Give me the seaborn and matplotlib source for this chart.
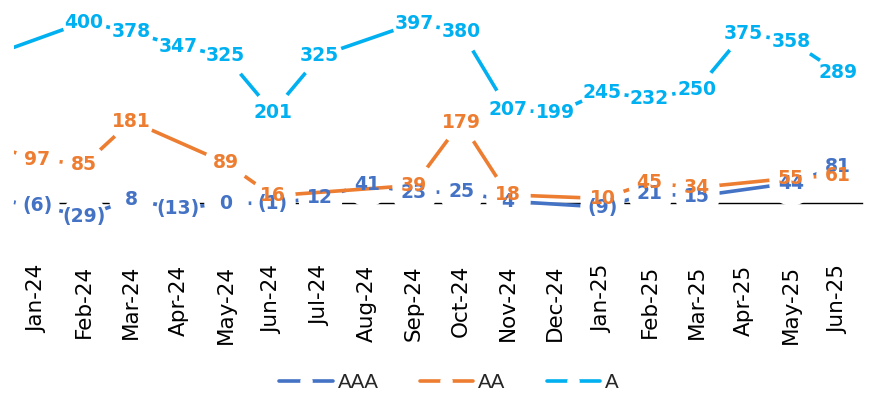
import numpy as np
import pandas as pd
import matplotlib
matplotlib.use("Agg")
import matplotlib.pyplot as plt
from matplotlib.lines import Line2D
import seaborn as sns

# Monthly values per rating bucket; None = no reading that month (line bridges the gap)
months = ["Dec-23", "Jan-24", "Feb-24", "Mar-24", "Apr-24", "May-24", "Jun-24",
          "Jul-24", "Aug-24", "Sep-24", "Oct-24", "Nov-24", "Dec-24", "Jan-25",
          "Feb-25", "Mar-25", "Apr-25", "May-25", "Jun-25"]
aaa = [10, -6, -29, 8, -13, 0, -1, 12, 41, 23, 25, 4, None, -9, 21, 15, None, 44, 81]
aa = [128, 97, 85, 181, None, 89, 16, None, None, 39, 179, 18, None, 10, 45, 34, None, 55, 61]
a = [325, None, 400, 378, 347, 325, 201, 325, None, 397, 380, 207, 199, 245, 232, 250, 375, 358, 289]

series_names = ["AAA", "AA", "A"]
colors = {"AAA": "#4472C4", "AA": "#ED7D31", "A": "#00B0F0"}

sns.set_style("white")
plt.rcParams["font.family"] = ["DejaVu Sans"]

df = pd.DataFrame({"month_idx": range(len(months)), "AAA": aaa, "AA": aa, "A": a})
long = df.melt(id_vars="month_idx", var_name="series", value_name="value").dropna()

fig = plt.figure(figsize=(8.75, 3.94), dpi=100)
W, H = 875, 394
ax = fig.add_axes([13.5 / W, 1 - 248.25 / H, 848 / W, 248.85 / H])
ax.set_axisbelow(True)

# The axis window starts at Jan-24; the Dec-23 reading only feeds the opening segment
x_lo, x_hi = 0.5, len(months) - 0.5

sns.lineplot(data=long, x="month_idx", y="value", hue="series",
             hue_order=series_names, palette=colors, marker="o",
             markersize=32, markerfacecolor="white", markeredgewidth=0,
             linewidth=2.6, errorbar=None, legend=False, ax=ax, zorder=3)

def fmt(v):
    v = int(round(v))
    return f"({abs(v)})" if v < 0 else f"{v}"

for name, vals in zip(series_names, [aaa, aa, a]):
    for i, v in enumerate(vals):
        if v is None or not (x_lo < i < x_hi):
            continue
        ax.text(i, v, fmt(v), color=colors[name], ha="center", va="center",
                fontsize=13.5, fontweight="bold", zorder=5)

ax.set_xlim(x_lo, x_hi)
ax.set_ylim(-100, 450)
ax.set_xlabel("")
ax.set_ylabel("")
ax.set_yticks([])

for side in ["top", "right", "left"]:
    ax.spines[side].set_visible(False)
ax.spines["bottom"].set_position(("data", 0))
ax.spines["bottom"].set_color("black")
ax.spines["bottom"].set_linewidth(1.0)
ax.spines["bottom"].set_zorder(1)

ax.set_xticks(range(1, len(months)))
ax.set_xticklabels(months[1:], rotation=90, fontsize=15.5, family="DejaVu Sans")
ax.tick_params(axis="x", which="major", length=0, pad=44.6, colors="black")
ax.set_xticks(np.arange(0.5, len(months), 1.0), minor=True)
ax.tick_params(axis="x", which="minor", length=5, width=1, color="black",
               direction="out")

handles = [Line2D([], [], color=colors[n], lw=2.6, marker="o", markersize=9,
                  markerfacecolor="white", markeredgewidth=0) for n in series_names]
fig.legend(handles, series_names, loc="center", bbox_to_anchor=(449 / W, 1 - 383 / H),
           ncol=3, frameon=False, prop={"family": "Liberation Sans", "size": 14.8},
           handlelength=2.6, handletextpad=0.25, columnspacing=2.0)

fig.savefig("out.png", dpi=100)
